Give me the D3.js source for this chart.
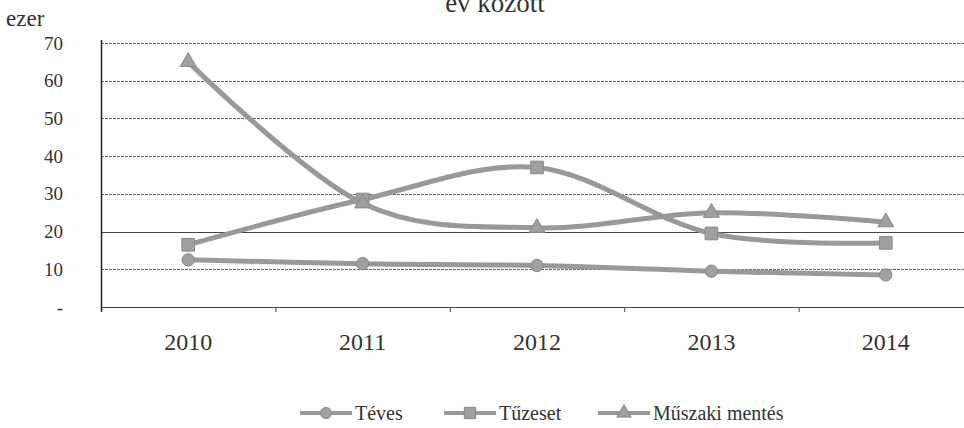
<!DOCTYPE html>
<html>
<head>
<meta charset="utf-8">
<script src="https://cdn.jsdelivr.net/npm/d3@7"></script>
<style>
  body { margin: 0; background: #fff; }
  svg text { font-family: 'Liberation Serif', 'Times New Roman', 'DejaVu Serif', serif; }
</style>
</head>
<body>
<div id="chart"></div>
<script>
// chart data (thousands)
const years = ['2010', '2011', '2012', '2013', '2014'];
const teves = [12.5, 11.5, 11, 9.5, 8.5];
const tuzeset = [16.5, 28.5, 37, 19.5, 17];
const muszaki = [65, 27.5, 21, 25, 22.5];
const yTicks = [0, 10, 20, 30, 40, 50, 60, 70];
const seriesNames = ['Téves', 'Tűzeset', 'Műszaki mentés'];

const width = 964, height = 428;
const lineColor = '#999';
const serif = "'Liberation Serif', 'Times New Roman', 'DejaVu Serif', serif";

const svg = d3.select('#chart').append('svg')
  .attr('width', width)
  .attr('height', height);

// scales
const x = d3.scaleBand().domain(years).range([101, 973]).padding(0);
const y = d3.scaleLinear().domain([0, 70]).range([307, 43]);
const cx = d => x(d) + x.bandwidth() / 2;

// title (cropped at the top in the original)
svg.append('text')
  .attr('x', 495).attr('y', 12)
  .attr('text-anchor', 'middle')
  .attr('font-family', serif)
  .style('font-size', '27px').style('fill', '#333')
  .text('év között');

svg.append('text')
  .attr('x', 6).attr('y', 26)
  .attr('font-family', serif)
  .style('font-size', '23px').style('fill', '#333')
  .text('ezer');

// horizontal grid
svg.append('g')
  .selectAll('line')
  .data(yTicks)
  .join('line')
  .attr('x1', 101).attr('x2', width)
  .attr('y1', d => Math.round(y(d)) + 0.5)
  .attr('y2', d => Math.round(y(d)) + 0.5)
  .style('stroke', d => (d === 0 || d === 20) ? '#444' : '#666')
  .style('stroke-width', 1)
  .style('stroke-dasharray', d => (d === 0 || d === 20) ? null : '3,1');

// y axis
const yAxis = d3.axisLeft(y)
  .tickValues(yTicks)
  .tickSize(0)
  .tickPadding(0)
  .tickFormat(d => d === 0 ? '-' : d);

const yg = svg.append('g')
  .attr('transform', 'translate(63,0)')
  .call(yAxis)
  .attr('font-family', serif);
yg.select('.domain').remove();
yg.selectAll('text')
  .attr('font-family', serif)
  .style('font-size', '19px')
  .style('fill', '#333');

svg.append('line')
  .attr('x1', 101.5).attr('x2', 101.5)
  .attr('y1', 40).attr('y2', 312)
  .style('stroke', '#222').style('stroke-width', 1.5);

// x axis
const xAxis = d3.axisBottom(x).tickSize(0).tickPadding(26);
const xg = svg.append('g')
  .attr('transform', `translate(0,${y(0)})`)
  .call(xAxis)
  .attr('font-family', serif);
xg.select('.domain').remove();
xg.selectAll('text')
  .attr('font-family', serif)
  .style('font-size', '24px')
  .style('fill', '#333');

// small category separator ticks
svg.append('g')
  .selectAll('line')
  .data(years.slice(1))
  .join('line')
  .attr('x1', d => x(d) + 0.5).attr('x2', d => x(d) + 0.5)
  .attr('y1', y(0)).attr('y2', y(0) + 5)
  .style('stroke', '#444');

// series
const line = d3.line()
  .x((d, i) => cx(years[i]))
  .y(d => y(d))
  .curve(d3.curveCardinal.tension(0));

const series = [
  { name: seriesNames[0], values: teves, shape: d3.symbolCircle, size: 120 },
  { name: seriesNames[1], values: tuzeset, shape: d3.symbolSquare, size: 160 },
  { name: seriesNames[2], values: muszaki, shape: d3.symbolTriangle, size: 110 }
];

series.forEach(s => {
  svg.append('path')
    .datum(s.values)
    .attr('d', line)
    .style('fill', 'none')
    .style('stroke', lineColor)
    .style('stroke-width', 5);

  svg.append('g')
    .selectAll('path')
    .data(s.values)
    .join('path')
    .attr('transform', (d, i) => `translate(${cx(years[i])},${y(d)})`)
    .attr('d', d3.symbol().type(s.shape).size(s.size))
    .style('fill', '#a0a0a0')
    .style('stroke', '#888')
    .style('stroke-width', 1);
});

// legend
const legendX = [300, 444, 598];
const legend = svg.append('g');
series.forEach((s, i) => {
  const g = legend.append('g').attr('transform', `translate(${legendX[i]},413)`);
  g.append('line')
    .attr('x1', 0).attr('x2', 52)
    .style('stroke', lineColor).style('stroke-width', 4);
  g.append('path')
    .attr('transform', 'translate(26,0)')
    .attr('d', d3.symbol().type(s.shape).size(s.size * 0.8))
    .style('fill', '#a0a0a0').style('stroke', '#888');
  g.append('text')
    .attr('x', 55).attr('y', 7)
    .attr('font-family', serif)
    .style('font-size', '20px').style('fill', '#333')
    .text(s.name);
});
</script>
</body>
</html>
